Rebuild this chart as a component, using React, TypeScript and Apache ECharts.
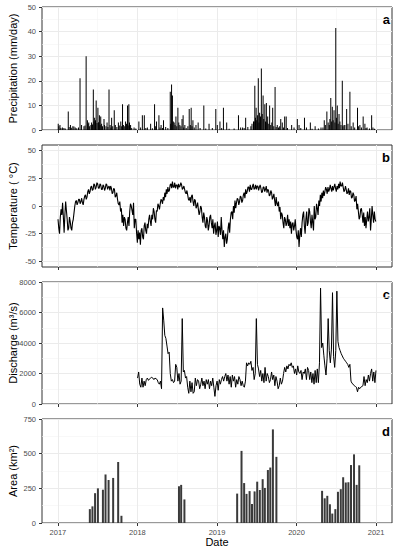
import React, { useEffect, useRef } from "react";
import * as echarts from "echarts";

const yearTicks = [2017, 2018, 2019, 2020, 2021];
const halfYears = [2017.5, 2018.5, 2019.5, 2020.5];
const tempTicks = [-50, -25, 0, 25, 50];
const tempMinor = [-37.5, -12.5, 12.5, 37.5];

const precipitation: [string, number][] = [
  ["2017-01-02",2.5],["2017-01-05",1.5],["2017-01-10",2],["2017-01-14",0.8],["2017-01-21",1],["2017-01-28",0.8],["2017-02-03",0.6],["2017-02-17",7.5],["2017-02-21",1.2],["2017-02-27",2],["2017-03-03",0.9],["2017-03-10",1.5],["2017-03-15",1.4],["2017-03-21",1],["2017-03-28",0.7],["2017-04-05",1],["2017-04-12",21],["2017-04-19",2],["2017-04-30",1.5],["2017-05-05",1.8],["2017-05-10",30],["2017-05-16",4],["2017-05-19",2.5],["2017-05-22",3],["2017-05-26",1.5],["2017-06-01",2],["2017-06-04",3],["2017-06-08",2.2],["2017-06-12",16.5],["2017-06-15",3.5],["2017-06-18",5],["2017-06-22",4],["2017-06-25",12],["2017-06-29",2.8],["2017-07-03",9],["2017-07-06",3.2],["2017-07-10",6],["2017-07-13",2],["2017-07-16",5.5],["2017-07-20",2.5],["2017-07-24",1.5],["2017-07-31",4.5],["2017-08-02",2],["2017-08-09",1.5],["2017-08-14",3],["2017-08-18",1.2],["2017-08-23",16.5],["2017-08-28",2],["2017-09-01",1],["2017-09-04",5],["2017-09-09",1.5],["2017-09-16",8],["2017-09-21",2],["2017-09-28",1.2],["2017-10-05",3],["2017-10-09",1.8],["2017-10-16",3.5],["2017-10-20",1.5],["2017-10-24",10.5],["2017-10-28",2],["2017-11-03",1.5],["2017-11-07",3.5],["2017-11-11",2.5],["2017-11-16",10],["2017-11-19",1.8],["2017-11-22",10.5],["2017-11-25",3],["2017-11-30",2],["2017-12-05",0.8],["2017-12-16",1],["2017-12-24",0.6],
  ["2018-01-07",3.5],["2018-01-15",1],["2018-01-23",6],["2018-02-01",6],["2018-02-08",0.8],["2018-02-15",1],["2018-03-02",2.5],["2018-03-10",0.7],["2018-03-20",10.5],["2018-03-25",1.5],["2018-03-29",3.5],["2018-04-09",6],["2018-04-14",1],["2018-04-19",2],["2018-04-25",0.8],["2018-04-30",4],["2018-05-10",1.2],["2018-05-20",0.8],["2018-05-31",15.5],["2018-06-02",2.5],["2018-06-06",18.5],["2018-06-10",14],["2018-06-14",3.5],["2018-06-18",3],["2018-06-22",2],["2018-06-26",5.5],["2018-06-30",1.5],["2018-07-05",9],["2018-07-09",3],["2018-07-14",2],["2018-07-19",1.5],["2018-07-24",4.5],["2018-07-29",6],["2018-08-01",1],["2018-08-06",2],["2018-08-12",0.8],["2018-08-20",1.5],["2018-08-26",8.5],["2018-08-31",2],["2018-09-04",9],["2018-09-08",1.5],["2018-09-12",4],["2018-09-18",1],["2018-09-26",2],["2018-10-06",3],["2018-10-15",0.8],["2018-11-01",10],["2018-11-10",0.6],["2018-11-25",2.5],["2018-12-10",0.8],["2018-12-26",8.5],
  ["2019-01-02",2],["2019-01-14",3.5],["2019-01-22",0.8],["2019-01-30",9],["2019-02-14",3],["2019-02-25",0.5],["2019-03-20",0.6],["2019-04-09",6],["2019-04-19",1],["2019-04-28",1],["2019-05-05",0.8],["2019-05-12",5],["2019-05-22",1.2],["2019-06-05",1.5],["2019-06-10",2.5],["2019-06-17",3.5],["2019-06-20",3.5],["2019-06-23",18],["2019-06-26",5],["2019-06-29",9],["2019-07-02",4],["2019-07-05",6],["2019-07-09",21],["2019-07-12",3],["2019-07-15",7],["2019-07-19",5.5],["2019-07-23",25],["2019-07-27",6.5],["2019-07-31",14],["2019-08-03",4.5],["2019-08-08",10.5],["2019-08-11",3.5],["2019-08-15",11],["2019-08-18",3],["2019-08-21",5.5],["2019-08-26",2.5],["2019-08-30",10],["2019-09-04",2],["2019-09-09",3],["2019-09-13",9],["2019-09-18",1.5],["2019-09-24",17.5],["2019-09-29",1.2],["2019-10-04",2],["2019-10-10",1],["2019-10-15",1.5],["2019-10-20",4.5],["2019-10-27",3],["2019-11-02",1],["2019-11-07",5.5],["2019-11-14",5.5],["2019-11-20",0.8],["2019-12-09",2],["2019-12-20",1],
  ["2020-01-04",4.5],["2020-01-12",2],["2020-01-20",0.8],["2020-02-06",5],["2020-02-15",1],["2020-03-04",3],["2020-03-12",0.5],["2020-03-26",1.5],["2020-04-10",0.6],["2020-04-22",1],["2020-05-01",1],["2020-05-07",4],["2020-05-12",2],["2020-05-19",7.5],["2020-05-25",3],["2020-05-30",2],["2020-06-02",4.5],["2020-06-06",13],["2020-06-10",3.5],["2020-06-13",9.5],["2020-06-17",4],["2020-06-21",8],["2020-06-25",3],["2020-06-29",41.5],["2020-07-02",5],["2020-07-06",10],["2020-07-10",2.5],["2020-07-14",6.5],["2020-07-18",3.5],["2020-07-23",2],["2020-07-29",20],["2020-08-01",1.5],["2020-08-06",2],["2020-08-10",2],["2020-08-18",8.5],["2020-08-24",2.5],["2020-09-02",15.5],["2020-09-08",1.5],["2020-09-17",3],["2020-09-24",1],["2020-10-07",9],["2020-10-12",1.5],["2020-10-18",2],["2020-10-25",1],["2020-11-02",5.5],["2020-11-10",2.5],["2020-11-15",0.8],["2020-11-20",1],["2020-12-01",0.6],["2020-12-11",6],["2020-12-17",1],["2020-12-24",0.5]
];

// temperature (°C) every 3.5 days from 2017-01-01
const temperatureStart = "2017-01-01";
const temperatureStepDays = 3.5;
const temperature: number[] = [
  -12,-20, -25,-10, -3,-8, 3,-10, -24,-8, 4,-4, -12,-22, -20,-10, -14,-20, -22,-15, -12,-6,
  0,4, 5,1, 3,6, 6,2, 4,7, 3,1, 6,9, 10,6, 8,13, 15,11,
  13,17, 18,14, 15,20, 19,15, 17,21, 20,16, 16,20, 19,15, 15,19, 18,14, 16,20, 19,15, 17,18, 14,18, 16,11,
  12,16, 15,8, 9,12, 6,2, 1,4, -5,-2, -15,-8, -18,-10, -12,-20, -22,-15, -10,-18, -5,2, 0,-4, -8,3, -20,-12, -12,-24, -33,-22,
  -30,-24, -35,-22, -20,-28, -30,-18, -15,-22, -25,-16, -20,-12, -8,-14, -18,-8, -12,-2, -5,-12, -15,-4, -5,2, 0,-3,
  2,6, 5,2, 8,5, 12,8, 15,11, 17,13, 14,19, 20,16, 22,17, 17,21, 16,19, 19,15, 20,17, 18,21,
  19,15, 16,18, 15,12, 11,14, 10,6, 5,8, 3,9, 10,4, 0,6, 5,-2, 0,3, -3,-8,
  -5,0, -2,-10, -15,-6, -10,-18, -20,-10, -13,-22, -18,-10, -8,-15, -20,-12, -25,-18, -15,-26, -22,-14,
  -28,-18, -20,-26, -10,-22, -30,-22, -37,-28, -25,-34, -30,-20, -15,-24, -12,-6, -5,-12, 0,-6,
  5,-2, 3,7, 6,1, 4,9, 8,3, 5,10, 12,7, 15,11, 13,17, 17,13, 19,15, 15,18,
  20,15, 16,19, 15,18, 18,14, 17,19, 16,12, 13,17, 17,13, 15,18, 12,15, 14,9, 10,14,
  12,6, 8,11, 5,0, 8,2, 0,4, -5,-1, -12,-6, -8,-15, -20,-10, -12,-18, -15,-8, -18,-12, -20,-14, -25,-16, -15,-22, -18,-12, -22,-28,
  -30,-22, -37,-26, -20,-28, -15,-8, -5,-18, -25,-12, -5,-18, -15,-2, -5,-14, -20,-8, -15,-22, 0,-12, -10,2, -2,-8,
  5,0, 10,4, 12,7, 14,9, 13,17, 15,11, 17,13, 15,19, 16,13, 18,14, 17,20, 16,13,
  18,15, 20,16, 22,18, 18,21, 17,13, 14,18, 15,11, 12,16, 10,14, 13,7, 8,12, 10,4, 5,9,
  -3,2, -5,-12, -10,-3, -2,-8, -15,-6, -18,-10, -20,-12, -5,-14, -10,-2, -22,-12, 0,-8, -15,-5, -12,-14
];

// discharge (m3/s) every 5 days from 2018-01-01
const dischargeStart = "2018-01-01";
const dischargeStepDays = 5;
const discharge: number[] = [
  1700, 2100, 1300, 1100, 1700, 1100, 1500, 1200, 1600, 1700,
  1550, 1650, 1700, 1750, 1700, 1600, 1700, 1650, 1600, 1400,
  1300, 1500, 1000, 6300, 5500, 4500, 4300, 3800, 3300, 3400,
  2000, 1500, 1600, 1400, 1500, 2600, 2400, 1500, 2000, 1300,
  1500, 5600, 2100, 2200, 1700, 1800, 1100, 700, 1500, 800,
  1400, 700, 800, 1700, 1200, 1600, 1500, 1000, 1300, 1700,
  1200, 1500, 1000, 1600, 1300, 1600, 1000, 1500, 1200, 1700,
  1100, 500, 1200, 1500, 900, 1600, 1300, 1600, 1800, 1500,
  1800, 2000, 1500, 1900, 1300, 1800, 1100, 1900, 1500, 1800,
  1100, 1600, 1300, 1800, 1600, 1200, 1500, 1200, 1100, 1500,
  2700, 2500, 2700, 2600, 2800, 2200, 2400, 1600, 2000, 5600,
  2600, 2300, 1800, 2200, 1500, 2000, 1400, 2400, 1500, 2000,
  1800, 1400, 1600, 2100, 1600, 1900, 1200, 1800, 1500, 1000,
  1200, 1700, 1300, 1500, 2000, 2400, 2100, 2500, 2300, 2600,
  2500, 2700, 2400, 2500, 2000, 2300, 1900, 2500, 2100, 2000,
  2200, 1600, 2100, 2000, 2300, 1600, 2400, 2200, 1600, 2100,
  1400, 2000, 1300, 2200, 1400, 2300, 1400, 2700, 7600, 3700,
  4000, 3200, 2500, 1900, 3000, 5600, 3500, 2700, 3600, 7300,
  3100, 2400, 3500, 7400, 4100, 3700, 3500, 3300, 3150, 3000,
  2900, 2800, 2700, 2600, 2400, 2600, 1500, 1350, 1300, 1200,
  1150, 1100, 800, 1100, 1000, 1100, 1150, 1200, 1800, 1200,
  1600, 1400, 1900, 1500, 2000, 2300, 1500, 2100, 1400, 2200
];

const area: [string, number][] = [
  ["2017-05-27",100],["2017-06-08",120],["2017-06-20",215],["2017-07-03",250],["2017-07-26",240],["2017-08-07",350],["2017-08-21",310],["2017-09-11",325],["2017-10-04",440],["2017-10-19",52],
  ["2018-07-10",265],["2018-07-20",275],["2018-08-04",170],
  ["2019-04-03",212],["2019-04-23",520],["2019-05-05",288],["2019-05-16",210],["2019-05-30",230],["2019-06-10",137],["2019-06-22",228],["2019-07-04",298],["2019-07-16",238],["2019-07-29",316],["2019-08-08",253],["2019-08-22",382],["2019-09-02",400],["2019-09-14",675],["2019-09-30",477],
  ["2020-04-27",232],["2020-05-09",178],["2020-05-21",196],["2020-06-02",135],["2020-06-13",68],["2020-06-27",100],["2020-07-09",225],["2020-07-22",244],["2020-08-02",330],["2020-08-14",292],["2020-08-26",294],["2020-09-07",418],["2020-09-21",495],["2020-10-03",275],["2020-10-15",416]
];

const panelLetters = ["a", "b", "c", "d"];
const yTitles = ["Precipitation (mm/day)", "Temperature ( °C)", "Discharge (m³/s)", "Area (km²)"];

const FONT = "'Liberation Sans', Arial, Helvetica, sans-serif";
const DAY = 86400000;

function toYear(ms: number): number {
  const d = new Date(ms);
  const y = d.getUTCFullYear();
  const s = Date.UTC(y, 0, 1);
  const e = Date.UTC(y + 1, 0, 1);
  return y + (ms - s) / (e - s);
}
function dateMs(s: string): number {
  return Date.parse(s + "T12:00:00Z");
}

export default function App() {
  const ref = useRef<HTMLDivElement>(null);
  useEffect(() => {
    if (!ref.current) return;
    const chart = echarts.init(ref.current, undefined, { renderer: "svg" });

    const panels = [
      { top: 7, height: 123 },
      { top: 145, height: 122 },
      { top: 282, height: 122 },
      { top: 419, height: 104 }
    ];
    const grid = panels.map((p) => ({
      left: 42, right: 6, top: p.top, height: p.height,
      containLabel: false, outerBoundsMode: "none",
      show: true, borderColor: "#333", borderWidth: 1, backgroundColor: "#fff"
    }));

    const majorLine = { show: true, lineStyle: { color: "#ebebeb", width: 1 } };
    const minorLine = { show: true, lineStyle: { color: "#f3f3f3", width: 0.6 } };
    const tickStyle = { show: true, length: 3, lineStyle: { color: "#333", width: 1 } };
    const labelStyle = { color: "#4d4d4d", fontSize: 7.5, fontFamily: FONT, formatter: (v: number) => String(Math.round(v)) };

    const xAxis = panels.map((_, i) => ({
      type: "value", gridIndex: i, min: 2016.8, max: 2021.2,
      axisLine: { show: false, onZero: false },
      axisTick: { ...tickStyle, customValues: yearTicks },
      axisLabel: { ...labelStyle, show: i === 3, margin: 5, customValues: yearTicks },
      splitLine: majorLine,
      name: i === 3 ? "Date" : "",
      nameLocation: "middle", nameGap: 13, nameMoveOverlap: false,
      nameTextStyle: { color: "#000", fontSize: 11, fontFamily: FONT }
    }));

    const yCommon = (i: number) => ({
      type: "value", gridIndex: i,
      axisLine: { show: false, onZero: false },
      axisLabel: { ...labelStyle, margin: 6 },
      axisTick: tickStyle,
      splitLine: majorLine,
      minorTick: { show: false, splitNumber: 2 },
      minorSplitLine: minorLine,
      name: yTitles[i], nameLocation: "middle", nameGap: 24, nameMoveOverlap: false,
      nameTextStyle: { color: "#000", fontSize: 11, fontFamily: FONT }
    });
    const yAxis = [
      { ...yCommon(0), min: 0, max: 50, interval: 10 },
      {
        ...yCommon(1), min: -55, max: 55,
        axisTick: { ...tickStyle, customValues: tempTicks },
        axisLabel: { ...labelStyle, margin: 6, customValues: tempTicks },
        minorSplitLine: { show: false }
      },
      { ...yCommon(2), min: 0, max: 8000, interval: 2000 },
      { ...yCommon(3), min: 0, max: 750, interval: 250 }
    ];

    const minorMark = (extraY: number[] = []) => ({
      silent: true, symbol: ["none", "none"], z: 1,
      label: { show: false }, emphasis: { disabled: true },
      lineStyle: { color: "#f3f3f3", width: 0.6, type: "solid" },
      data: [...halfYears.map((v) => ({ xAxis: v })), ...extraY.map((v) => ({ yAxis: v }))]
    });

    const precipData = precipitation.map(([d, v]) => [toYear(dateMs(d)), v]);
    const t0 = dateMs(temperatureStart);
    const tempData = temperature.map((v, k) => [toYear(t0 + k * temperatureStepDays * DAY), v]);
    const q0 = dateMs(dischargeStart);
    const qData = discharge.map((v, k) => [toYear(q0 + k * dischargeStepDays * DAY), v]);
    const areaData = area.map(([d, v]) => [toYear(dateMs(d)), v]);

    const series: any[] = [
      { type: "bar", xAxisIndex: 0, yAxisIndex: 0, data: precipData, barWidth: 1, itemStyle: { color: "#000" }, z: 3, markLine: minorMark() },
      { type: "line", xAxisIndex: 1, yAxisIndex: 1, data: tempData, showSymbol: false, lineStyle: { color: "#000", width: 1.1 }, z: 3, markLine: minorMark(tempMinor) },
      { type: "line", xAxisIndex: 2, yAxisIndex: 2, data: qData, showSymbol: false, lineStyle: { color: "#000", width: 1 }, z: 3, markLine: minorMark() },
      { type: "bar", xAxisIndex: 3, yAxisIndex: 3, data: areaData, barWidth: 2, itemStyle: { color: "#3a3a3a" }, z: 3, markLine: minorMark() }
    ];

    const graphic = panels.map((p, i) => ({
      type: "text", x: 390, y: p.top + 12,
      style: { text: panelLetters[i], align: "right", verticalAlign: "middle", fontSize: 13, fontWeight: "bold", fontFamily: FONT, fill: "#000" }
    }));

    chart.setOption({
      animation: false,
      backgroundColor: "#fff",
      grid, xAxis, yAxis, series, graphic
    } as any);
    return () => chart.dispose();
  }, []);
  return <div ref={ref} style={{ position: "fixed", left: 0, top: 0, width: 398, height: 550 }} />;
}
